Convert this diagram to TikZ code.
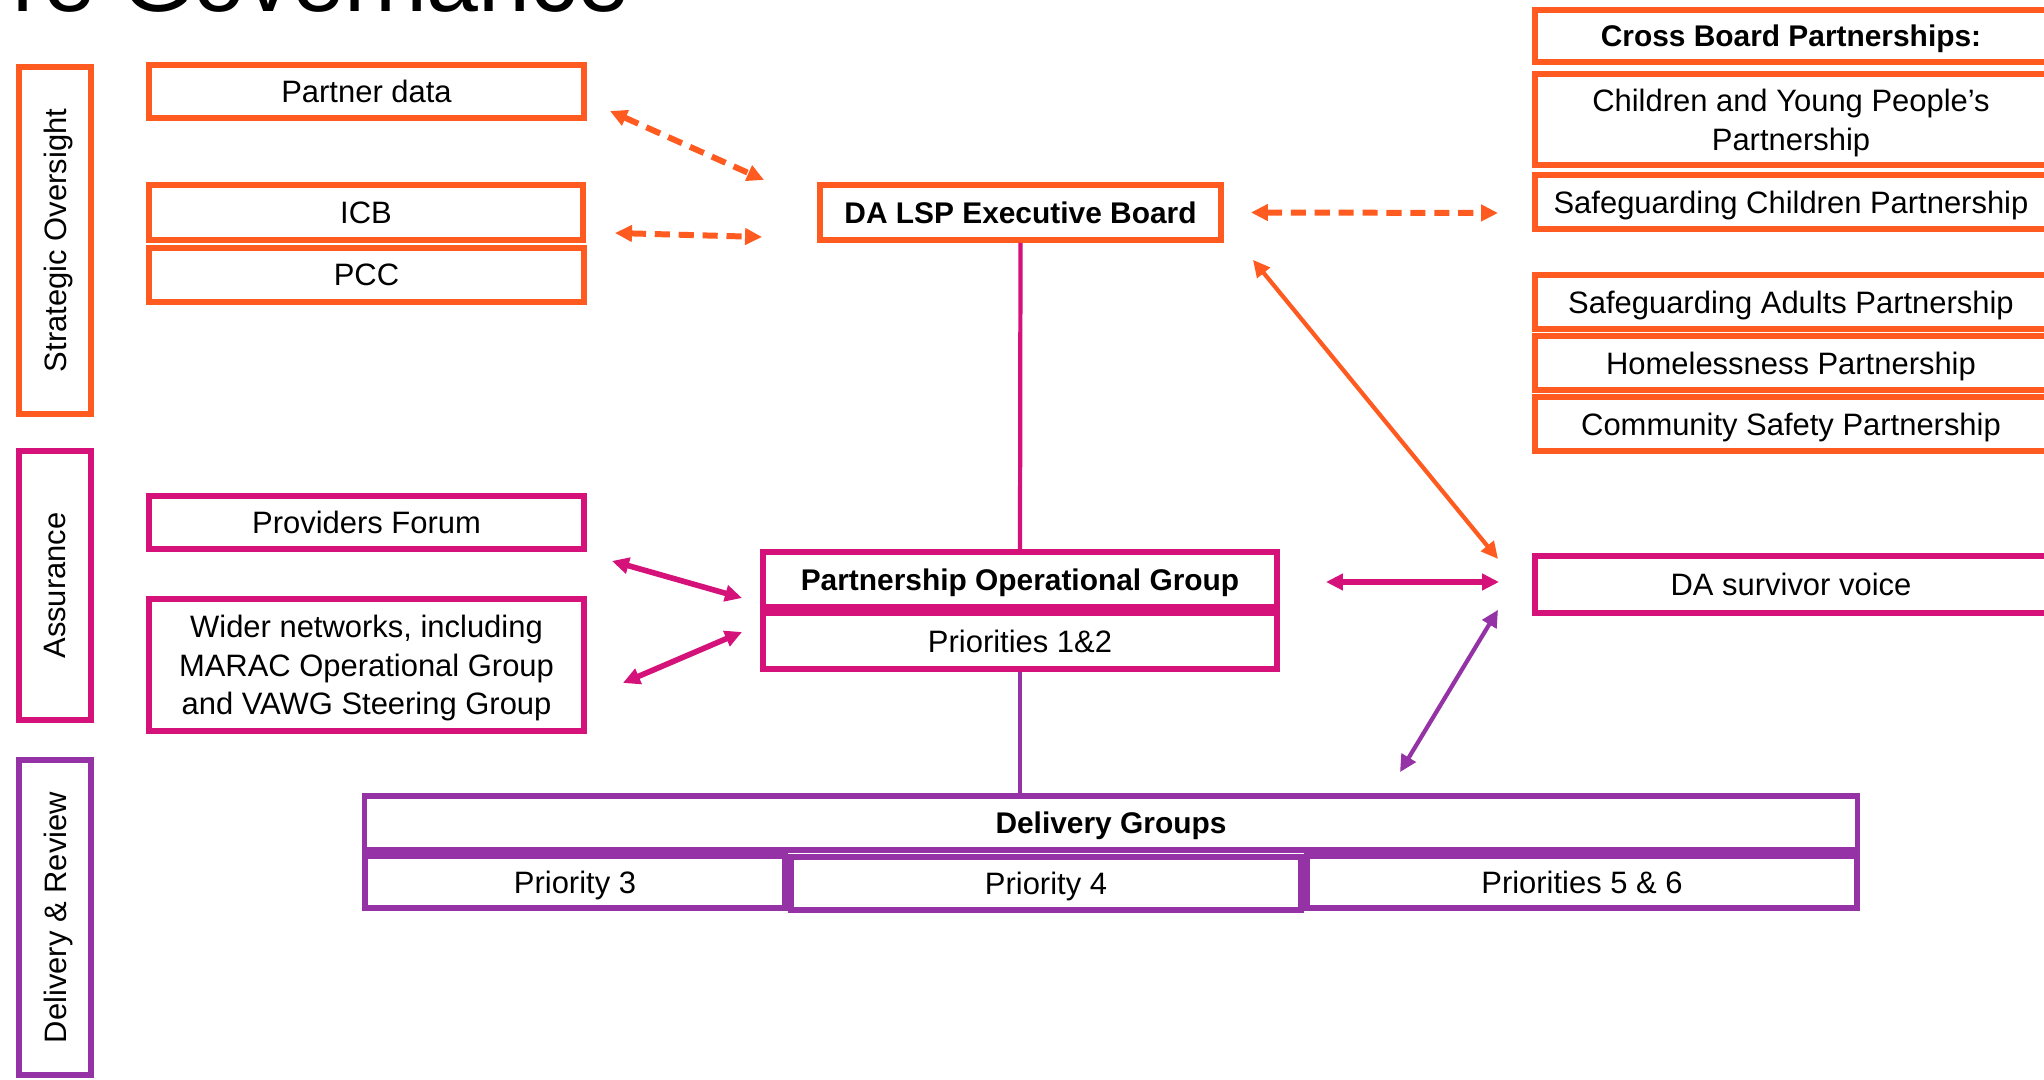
\documentclass[tikz,border=0pt]{standalone}
\usepackage{fontspec}
\setmainfont{Liberation Sans}
\usetikzlibrary{arrows.meta}
\definecolor{daorange}{HTML}{FF5A1F}
\definecolor{damagenta}{HTML}{D4127A}
\definecolor{dapurple}{HTML}{9432A6}
\newcommand{\boxfont}{\fontsize{8.8}{11}\selectfont}
\newcommand{\headfont}{\fontsize{8.5}{11}\selectfont\bfseries}
\newcommand{\govtitlefont}{\fontsize{26.5}{30}\selectfont}
\tikzset{
  datip/.tip={Triangle[length=0.17cm,width=0.16cm]},
  obox/.style={draw=daorange, line width=1.6pt, fill=white, inner sep=0pt, text depth=0pt, align=center, font=\boxfont},
  mbox/.style={obox, draw=damagenta},
  pbox/.style={obox, draw=dapurple},
  sidebox/.style={obox, rotate=90, minimum width=#1, minimum height=0.72cm},
  dasharr/.style={daorange, line width=1.7pt, dash pattern=on 4.3pt off 2.5pt, arrows={datip-datip}},
  solarr/.style={line width=1.2pt, arrows={datip-datip}},
  link/.style={line width=1.2pt}
}
\begin{document}
\begin{tikzpicture}[x=0.01cm, y=-0.01cm]
			%%%%% START %%%%%
			\useasboundingbox (0,0) rectangle (2044,1080);
			
			\node[anchor=base west, inner sep=0pt, font=\govtitlefont] (title) at (12,12) {re Governance};
			
			% side labels
			\node[sidebox=3.47cm] (strat) at (55,240.5) {Strategic Oversight};
			\node[sidebox=2.69cm, draw=damagenta] (assur) at (55,585.5) {Assurance};
			\node[sidebox=3.15cm, draw=dapurple] (deliv) at (55,917.5) {Delivery \& Review};
			
			% strategic
			\node[obox, minimum width=4.35cm, minimum height=0.53cm] (partner) at (366.5,91.5) {Partner data};
			\node[obox, minimum width=4.34cm, minimum height=0.55cm] (icb) at (366,212.5) {ICB};
			\node[obox, minimum width=4.35cm, minimum height=0.54cm] (pcc) at (366.5,275) {PCC};
			\node[obox, minimum width=4.01cm, minimum height=0.55cm, font=\headfont] (exec) at (1020.5,212.5) {DA LSP Executive Board};
			
			% cross board
			\node[obox, minimum width=5.12cm, minimum height=0.52cm, font=\headfont] (cross) at (1791,36) {Cross Board Partnerships:};
			\node[obox, minimum width=5.12cm, minimum height=0.91cm] (cyp) at (1791,119.5) {Children and Young People’s\\Partnership};
			\node[obox, minimum width=5.12cm, minimum height=0.54cm] (scp) at (1791,202) {Safeguarding Children Partnership};
			\node[obox, minimum width=5.12cm, minimum height=0.54cm] (sap) at (1791,302) {Safeguarding Adults Partnership};
			\node[obox, minimum width=5.12cm, minimum height=0.54cm] (hp) at (1791,363) {Homelessness Partnership};
			\node[obox, minimum width=5.12cm, minimum height=0.54cm] (csp) at (1791,424) {Community Safety Partnership};
			
			% assurance
			\node[mbox, minimum width=4.35cm, minimum height=0.53cm] (provf) at (366.5,522.5) {Providers Forum};
			\node[mbox, minimum width=4.35cm, minimum height=1.32cm] (wider) at (366.5,665) {Wider networks, including\\MARAC Operational Group\\and VAWG Steering Group};
			\node[mbox, minimum width=5.14cm, minimum height=0.55cm, font=\headfont] (pog) at (1020,579.5) {Partnership Operational Group};
			\node[mbox, minimum width=5.14cm, minimum height=0.56cm] (prio12) at (1020,641) {Priorities 1\&2};
			\node[mbox, minimum width=5.12cm, minimum height=0.57cm] (survivor) at (1791,584.5) {DA survivor voice};
			
			% delivery
			\node[pbox, minimum width=14.92cm, minimum height=0.54cm, font=\headfont] (dg) at (1111,823) {Delivery Groups};
			\node[pbox, minimum width=4.20cm, minimum height=0.52cm] (p3) at (575,882) {Priority 3};
			\node[pbox, minimum width=5.10cm, minimum height=0.53cm] (p4) at (1046,883.5) {Priority 4};
			\node[pbox, minimum width=5.50cm, minimum height=0.52cm] (p56) at (1582,882) {Priorities 5 \& 6};
			
			% links
			\draw[link, damagenta] (exec.south) -- (pog.north);
			\draw[link, dapurple] (prio12.south) -- (prio12.south |- dg.north);
			
			\draw[dasharr] ([shift={(23,19.5)}]partner.east) -- ([shift={(-53,-32.5)}]exec.west);
			\draw[dasharr] ([shift={(29,20.5)}]icb.east) -- ([shift={(-55,24.5)}]exec.west);
			\draw[dasharr] ([shift={(27,0)}]exec.east) -- ([shift={(-34,11)}]scp.west);
			\draw[solarr, daorange] ([shift={(29,17)}]exec.south east) -- ([shift={(-34,-25.5)}]survivor.west);
			
			\draw[solarr, damagenta, line width=1.6pt] ([shift={(25,38.5)}]provf.east) -- ([shift={(-18,18.5)}]pog.west);
			\draw[solarr, damagenta, line width=1.6pt] ([shift={(36,18)}]wider.east) -- ([shift={(-18,-9)}]prio12.west);
			\draw[solarr, damagenta, line width=1.6pt] ([shift={(46,2.5)}]pog.east) -- ([shift={(-33,-2.5)}]survivor.west);
			\draw[solarr, dapurple] ([shift={(289,-21)}]dg.north) -- ([shift={(-34,-6)}]survivor.south west);
			
			%%%%% END %%%%%
\end{tikzpicture}
\end{document}
